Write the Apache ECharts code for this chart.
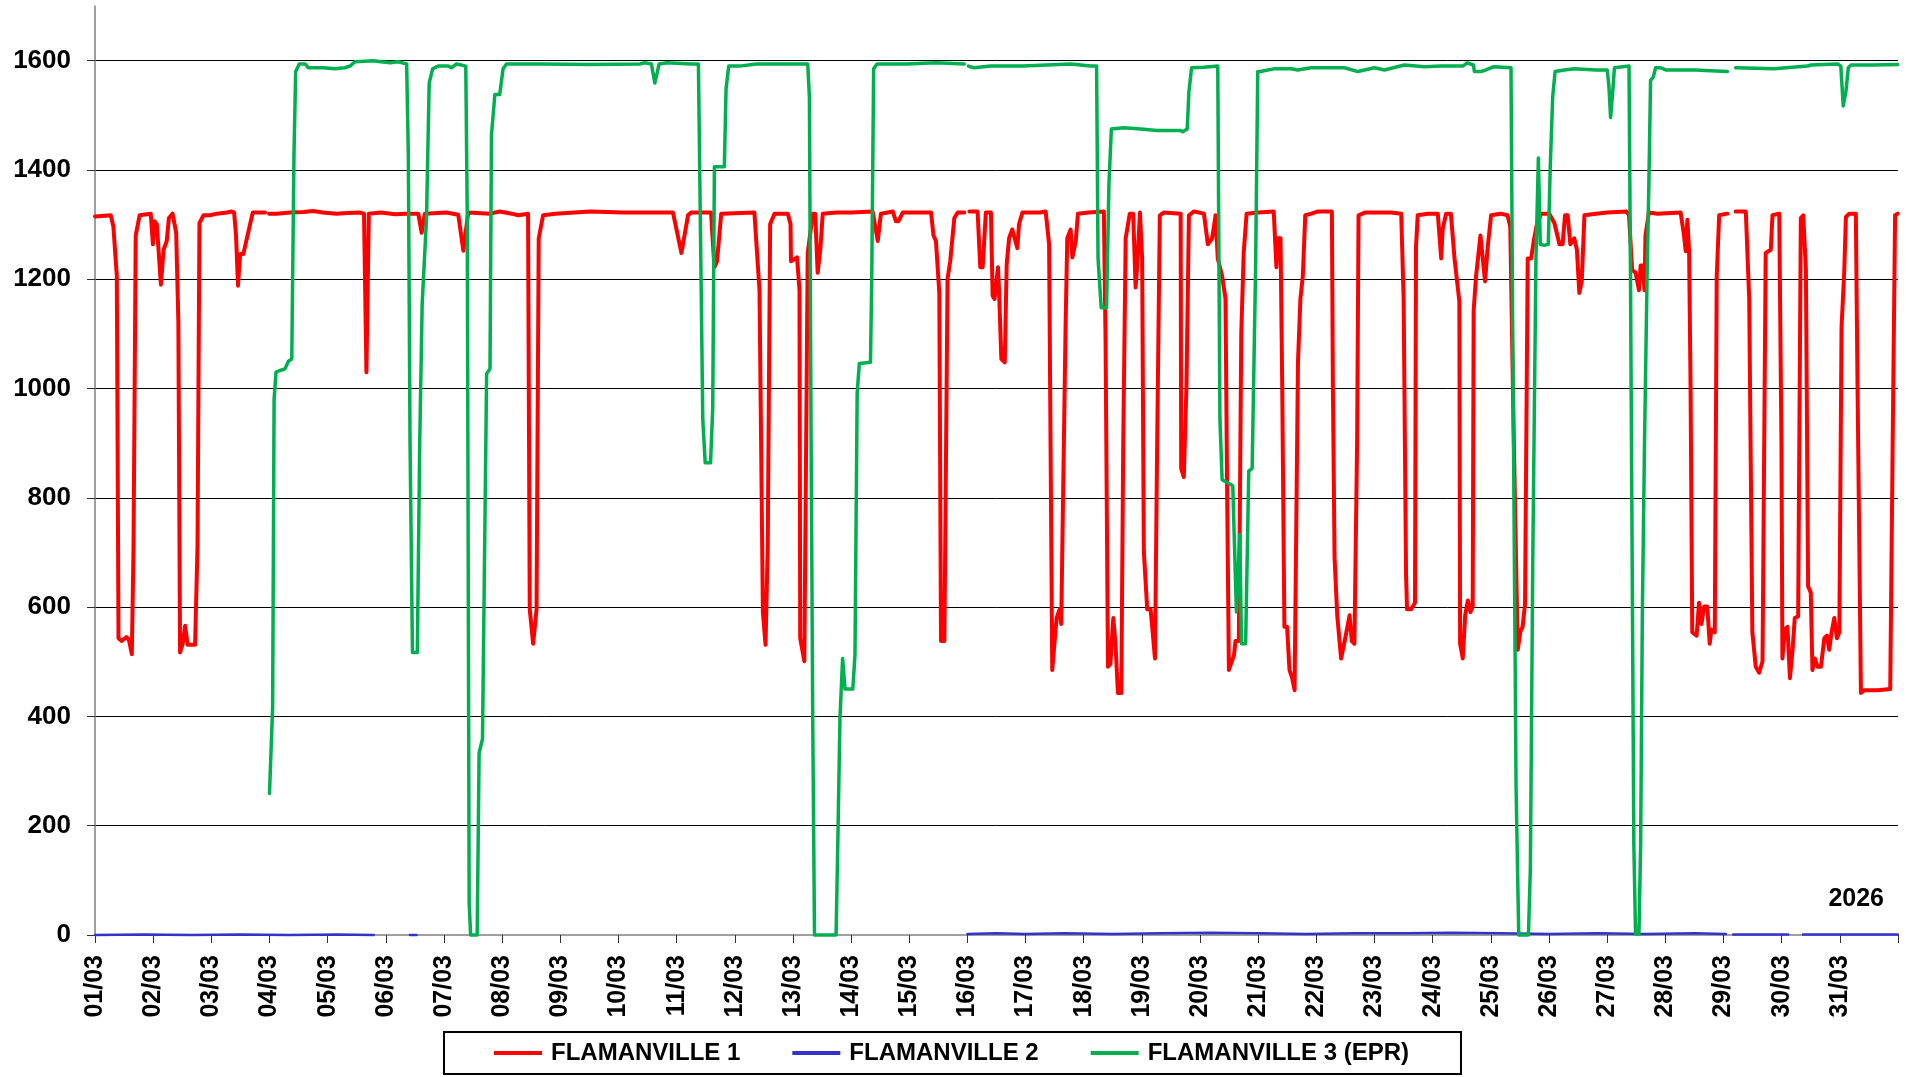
<!DOCTYPE html>
<html>
<head>
<meta charset="utf-8">
<style>
html,body{margin:0;padding:0;background:#fff;}
#chart{width:1906px;height:1077px;}
</style>
<script src="https://cdn.jsdelivr.net/npm/echarts@6/dist/echarts.min.js"></script>
</head>
<body>
<div id="chart"></div>
<script>
// Hours since 01/03 00:00, power in MW. null = no data (gap).
const dayLabels = ['01/03','02/03','03/03','04/03','05/03','06/03','07/03','08/03','09/03','10/03','11/03','12/03','13/03','14/03','15/03','16/03','17/03','18/03','19/03','20/03','21/03','22/03','23/03','24/03','25/03','26/03','27/03','28/03','29/03','30/03','31/03'];
const yTicks = [0,200,400,600,800,1000,1200,1400,1600];
const seriesNames = ['FLAMANVILLE 1','FLAMANVILLE 2','FLAMANVILLE 3 (EPR)'];
const yearLabel = '2026';

const fl1 = [[0,1315],[6.5,1317],[7.6,1296],[9,1206],[9.7,543],[11,538],[13,545],[14,540],[15.2,514],[15.9,712],[16.8,1280],[18.4,1317],[23,1320],[23.9,1264],[24.6,1306],[25.5,1301],[27.2,1190],[28.3,1254],[29.6,1270],[30.5,1312],[32,1320],[33.5,1285],[34.4,1122],[35.1,517],[36.2,533],[37.2,566],[38.2,531],[41.3,531],[42.3,712],[43.1,1303],[44.8,1317],[47.5,1317],[50.3,1320],[54.4,1322],[56.4,1324],[57.4,1322],[58.2,1280],[59,1188],[59.9,1246],[61.2,1246],[65.1,1322],[70.2,1322],[71,null],[71.8,1320],[75,1320],[80.5,1322],[86,1323],[90,1325],[94,1322],[99.7,1320],[104,1321],[109.4,1322],[111,1320],[112,1030],[113,1320],[118,1322],[123.8,1319],
[128,1320],[133.4,1320],[134.8,1285],[136.1,1320],[145,1322],[149.9,1318],[152,1252],[154,1322],[163,1320],[167,1324],[172,1320],[174.6,1317],[178.7,1320],[179.4,596],[180.8,533],[182.2,596],[183.1,1275],[184.9,1317],[190,1320],[204.2,1324],[218,1322],[238.5,1322],[242,1248],[244.7,1317],[246,1322],
[254.2,1322],[255.6,1222],[256.7,1233],[258.4,1320],[272.1,1322],[274.2,1180],[275.6,591],[276.7,531],[277.6,712],[278.6,1301],[280.4,1320],[285.9,1320],[287,1301],[287.2,1233],[289.7,1240],[290.7,1180],[291,543],[292.7,501],[294.1,1248],[296.2,1320],[297.2,1320],[298.2,1212],[299.3,1254],[300.3,1320],[306,1322],[312,1322],[320.9,1324],[323,1270],[324.3,1320],[329.2,1324],[330.5,1306],[331.5,1306],[333.3,1322],[345,1322],[346,1280],[347,1270],[348.4,1175],[349.1,538],[350.5,538],[351.8,1201],[352.9,1233],[354.6,1312],[356,1322],[358.7,1322],[359.6,null],[360.8,1324],[364.2,1324],[365.3,1222],[366.3,1222],[367.6,1322],[369.7,1322],[370.4,1170],[371.2,1164],
[372.6,1222],[373,1185],[374,1054],[375.4,1048],[376.2,1227],[377.2,1275],[378.5,1291],[380.6,1257],[381.3,1301],[382.7,1322],[390,1322],[392.3,1324],[393.7,1264],[395,485],[395.7,485],[396.8,580],[398,596],[398.7,569],[399.5,569],[400.5,1112],[401.2,1275],[402.6,1291],[403.3,1240],[404.7,1270],[405.6,1320],[410,1322],[416.3,1324],[417,1091],[418,491],[419,496],[420.2,580],[421.1,533],[422.1,443],[423.5,443],[424.3,901],[425.3,1275],[427,1320],[428.4,1320],[429.4,1185],[430.1,1227],[431.2,1322],[432.1,1238],[432.8,701],[434.2,596],[435.6,596],[437.4,506],[438.3,901],[439.4,1317],[441,1322],[448,1320],[448.2,854],[449.3,838],[450.4,1006],[451.4,1317],[453.5,1324],[457.6,1320],[459.2,1264],[461,1275],[462.4,1317],[463.3,1238],[465.1,1206],[466.5,1164],[467.2,796],[467.9,485],[468.6,485],[470,512],[470.6,538],[472,538],[473,1101],[474,1248],[475.2,1320],[480,1322],[486.4,1324],[487.5,1222],[488.1,1275],[489.2,1275],[489.9,1006],[490.8,564],[491.9,564],[492.9,485],[494,470],[495,448],[495.7,448],
[496.4,1048],[497.4,1164],[498.4,1206],[499.4,1317],[502,1320],[504.6,1324],[510.4,1324],[510.8,1006],[511.5,691],[512.6,585],[514.2,506],[515.9,543],[517.7,585],[518.6,538],[519.7,533],[520.8,901],[521.4,1317],[524,1322],[534.8,1322],[539,1320],[540,1164],[541,659],[541.4,596],[543.1,596],[544.7,608],[545.1,1259],[545.8,1317],[550,1320],[554.1,1320],[555.5,1238],[556.1,1291],[557.5,1320],[559.5,1320],[561,1238],[563,1159],[563.3,533],[564.4,506],[565.4,585],[566.5,612],[567.6,591],[568.5,601],[568.9,1143],[569.9,1206],[571.7,1280],[573.6,1196],[574.7,1259],[576.1,1317],[580,1320],[582.9,1317],[584,1296],[585.4,922],[587.1,522],[588.2,556],[589.1,564],[590.1,606],[591.2,1238],[592.6,1238],[593.7,1270],[595,1301],[596.7,1320],[600.1,1320],[602.2,1303],[604.3,1264],[605.6,1264],[606.6,1317],[607.7,1317],[608.8,1264],[610.4,1275],[611.5,1254],[612.5,1175],[613.5,1196],[614.6,1317],[619.4,1320],
[624,1322],[632,1324],[633,1317],[634.3,1217],[635.7,1212],[637.1,1180],[637.8,1225],[638.7,1225],[639.4,1180],[639.8,1280],[641.2,1322],[644.7,1320],[654.3,1322],[655.7,1280],[656.4,1251],[657.1,1309],[657.8,1251],[658.4,1006],[659.1,554],[660.9,548],[661.9,608],[662.9,569],[664,601],[665.3,601],[666.3,533],[667,559],[668.4,554],[669.2,1206],[670.2,1317],[673.6,1320],[675,null],[677,1324],[681.2,1324],[682.6,1164],[683.9,554],[685.3,491],[686.7,480],[688.1,501],[688.8,501],[689.4,1248],[691.5,1254],[692.2,1317],[695,1320],[695.9,901],[696.3,506],[697.3,559],[698.4,564],[699.4,470],[700.5,522],[701.4,580],[702.8,583],[703.9,1312],[704.9,1317],[706,1217],[706.9,638],[708,627],[708.7,485],[709.7,506],[710.8,491],[712.2,491],[713.6,543],[714.7,548],[715.6,522],[716.6,554],[717.7,580],[718.8,543],[719.8,554],[720.7,1112],[721.8,1212],[722.5,1314],[723.9,1320],[726.6,1320],[727.3,1006],[728.7,443],[730.1,448],[735.6,448],[740.8,450],[741.8,901],[742.8,1317],[743.9,1320]];

const fl2 = [[0,0],[20,1],[40,0],[60,1],[80,0],[100,1],[115,0],[116,null],[130,0],[132.7,0],[133,null],[360,2],[372,3],[384,2],[400,3],[420,2],[440,3],[460,4],[480,3],[500,2],[520,3],[540,3],[560,4],[580,3],[600,2],[620,3],[640,2],[660,3],[673,2],[674.5,null],[676,1],[698.7,1],[700,null],[704.8,1],[743.9,1]];

const fl3 = [[72,259],[73.3,417],[73.9,980],[74.7,1030],[76.4,1033],[78.4,1036],[79.8,1050],[81.2,1054],[82.1,1427],[82.8,1580],[84.3,1594],[86.7,1594],[88,1587],[94.2,1587],[99,1585],[103,1587],[105.2,1590],[107.3,1598],[114.9,1600],[118,1598],[121.7,1596],
[125,1598],[128.6,1594],[129.3,1427],[130,901],[131,517],[133,517],[134,901],[135,1154],[136.8,1312],[137.9,1559],[139.3,1585],[141.6,1590],[145.8,1590],[147.1,1587],[149.2,1594],[153,1590],[153.6,1322],[154.4,59],[155,0],[157.7,0],[158.5,333],[159.9,359],[161.6,1027],[163,1036],[163.6,1464],[165,1538],[167,1538],[168.4,1585],[169.8,1594],[184,1594],[204.2,1593],[224.8,1594],[226.9,1596],[229.6,1594],[231,1559],[232.8,1594],[236,1596],[246,1594],
[249,1594],[250.1,1196],[250.8,943],[251.8,864],[254,864],[254.9,964],[255.6,1406],[259.7,1406],[260.4,1548],[261.5,1590],[266,1590],[273,1594],[282,1594],[294.1,1594],[294.8,1533],[295.5,901],[296.2,375],[296.9,0],[305.8,0],[306.5,164],[307.4,396],[308.5,506],[309.5,450],[312.7,450],[313.6,512],[314.5,991],[315.4,1046],[320,1048],[320.5,1196],[321.3,1585],[322.7,1594],[335,1594],[347,1596],[358.7,1594],[359.5,null],[360.4,1590],[362.7,1587],[369.6,1590],
[383,1590],[402.6,1594],[410.8,1590],[413.3,1590],[413.9,1238],[415.2,1148],[417.4,1148],[418.4,1375],[419.4,1475],[424.6,1477],[431.5,1475],[438.3,1472],[440.4,1472],[448,1472],[448.9,1470],[450.7,1475],[451.4,1543],[452.5,1587],[457.6,1588],[463.3,1590],[464.2,943],[465.1,833],[467.5,827],[469.5,822],[471,591],[472.4,733],[473.1,533],[474.8,533],[476.1,849],[477.5,854],[478.9,1217],[479.8,1580],[480.9,1580],[486.4,1585],[493.6,1585],
[496.3,1583],[501.8,1587],[510,1587],[515.6,1587],[521.1,1580],[528,1587],[532.1,1583],[540.3,1592],[548.6,1589],[555.5,1590],[564.4,1590],[566.2,1596],[568.8,1592],[569.2,1580],[572,1580],[574,1583],[577.2,1589],[584.3,1587],[585,1112],[586.4,270],[587.5,0],[591.5,0],[592.3,122],[593.3,690],[594.6,1238],[595.6,1422],[596.4,1264],[598,1262],[599.7,1264],[600.5,1406],[601.5,1533],[602.5,1580],[606.3,1583],[610.4,1585],[619.4,1583],
[624,1583],[624.7,1554],[625.4,1496],[626.1,1533],[627,1587],[633,1590],[633.6,1217],[634.3,690],[635,164],[635.7,2],[637.1,2],[637.8,164],[638.5,585],[639.4,901],[640.5,1217],[641.2,1375],[641.9,1564],[643,1570],[644,1587],[646,1587],[648.1,1583],[660,1583],[673.6,1580],[675,null],[677,1587],[692.8,1585],[706.7,1590],[708,1592],[719.1,1594],[720.4,1590],[721.4,1517],[722.5,1543],[723.5,1587],[724.6,1592],[734,1592],[743.9,1593]];

const colors = ['#ff0000', '#3333cc', '#00b050'];
const FONT = 'Arial, "Liberation Sans", sans-serif';

function toSeriesData(arr) {
  return arr.map(p => [p[0], p[1] === null ? '-' : p[1]]);
}

const chart = echarts.init(document.getElementById('chart'), null, {renderer: 'canvas'});
const yMax = 1700;
const splitColors = [];
for (let v = 0; v <= 1600; v += 200) splitColors.push(v === 0 ? 'rgba(0,0,0,0)' : '#000000');
splitColors.push('rgba(0,0,0,0)');

chart.setOption({
  animation: false,
  backgroundColor: '#ffffff',
  textStyle: {fontFamily: FONT},
  grid: {left: 95, right: 8, top: 6, bottom: 142, containLabel: false},
  xAxis: {
    type: 'value', min: 0, max: dayLabels.length * 24, interval: 24,
    axisLine: {show: true, onZero: false, lineStyle: {color: '#808080', width: 1.5}},
    axisTick: {show: true, length: 8, lineStyle: {color: '#333', width: 1}},
    splitLine: {show: false},
    axisLabel: {
      rotate: 90, margin: 20, fontSize: 25, fontWeight: 'bold', color: '#000', fontFamily: FONT,
      formatter: function (v) { const i = Math.round(v / 24); return i < dayLabels.length ? dayLabels[i] : ''; }
    }
  },
  yAxis: {
    type: 'value', min: 0, max: yMax, interval: 200,
    axisLine: {show: true, lineStyle: {color: '#808080', width: 1.5}},
    axisTick: {show: true, length: 8, customValues: yTicks, lineStyle: {color: '#333', width: 1}},
    splitLine: {show: true, lineStyle: {color: splitColors, width: 1}},
    axisLabel: {
      margin: 24, fontSize: 26, fontWeight: 'bold', color: '#000', fontFamily: FONT,
      customValues: yTicks,
      formatter: function (v) { return v > 1600 ? '' : String(v); }
    }
  },
  legend: {
    left: 444, top: 1032,
    icon: 'rect', itemWidth: 48, itemHeight: 4, itemGap: 52,
    borderColor: '#000', borderWidth: 2, backgroundColor: '#fff',
    padding: [9, 52, 9, 50],
    textStyle: {fontSize: 24, fontWeight: 'bold', color: '#000', fontFamily: FONT, padding: [0, 0, 0, 4]},
    data: seriesNames
  },
  graphic: [{
    type: 'text', right: 22, top: 887,
    style: {text: yearLabel, font: 'bold 25px ' + FONT, fill: '#000'}
  }],
  series: [
    {name: seriesNames[0], type: 'line', data: toSeriesData(fl1), showSymbol: false, symbol: 'none',
     lineStyle: {color: colors[0], width: 4, join: 'round', cap: 'round'}, itemStyle: {color: colors[0]}, connectNulls: false, clip: false, z: 2},
    {name: seriesNames[1], type: 'line', data: toSeriesData(fl2), showSymbol: false, symbol: 'none',
     lineStyle: {color: colors[1], width: 2.5, join: 'round', cap: 'round'}, itemStyle: {color: colors[1]}, connectNulls: false, clip: false, z: 3},
    {name: seriesNames[2], type: 'line', data: toSeriesData(fl3), showSymbol: false, symbol: 'none',
     lineStyle: {color: colors[2], width: 3.5, join: 'round', cap: 'round'}, itemStyle: {color: colors[2]}, connectNulls: false, clip: false, z: 4}
  ]
});
</script>
</body>
</html>
